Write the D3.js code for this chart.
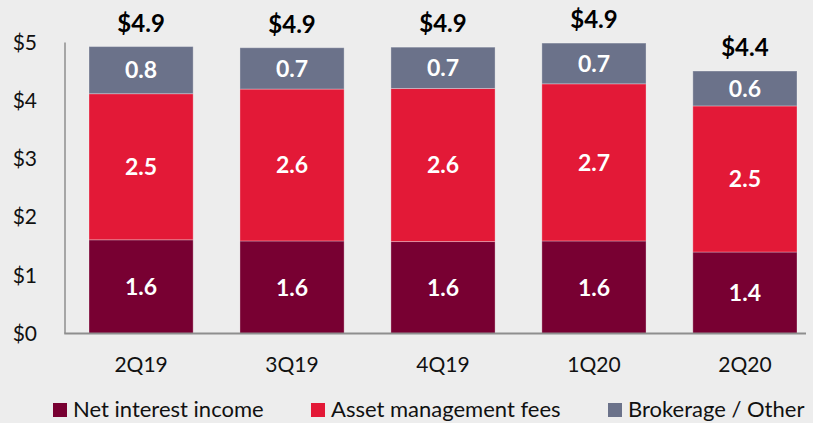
<!DOCTYPE html>
<html lang="en">
<head>
  <meta charset="UTF-8">
  <title>Revenue by quarter</title>
  <script src="https://cdn.jsdelivr.net/npm/d3@7"></script>
  <style>
    html, body { margin: 0; padding: 0; background: #ededed; }
    text { font-family: Lato, "Open Sans", sans-serif; }
  </style>
</head>
<body>
  <div id="chart"></div>
  <script>

    // data ($ billions)
    var quarters = ["2Q19", "3Q19", "4Q19", "1Q20", "2Q20"];
    var netInterest = [1.61, 1.59, 1.58, 1.59, 1.40];
    var assetMgmt = [2.51, 2.61, 2.63, 2.70, 2.51];
    var brokerage = [0.81, 0.71, 0.71, 0.70, 0.60];
    var totalLabels = ["$4.9", "$4.9", "$4.9", "$4.9", "$4.4"];
    var yTicks = [0, 1, 2, 3, 4, 5];

    var seriesNames = ["Net interest income", "Asset management fees", "Brokerage / Other"];
    var colors = ["#780032", "#e31937", "#6b728a"];

    var W = 813, H = 423;
    var margin = { top: 42, right: 16, bottom: 89.5, left: 65 };

    var svg = d3.select("#chart").append("svg")
      .attr("width", W)
      .attr("height", H);

    var rows = quarters.map(function (q, i) {
      return { q: q, nii: netInterest[i], amf: assetMgmt[i], bro: brokerage[i], total: totalLabels[i] };
    });
    var keys = ["nii", "amf", "bro"];
    var stacked = d3.stack().keys(keys)(rows);

    var x = d3.scaleBand()
      .domain(quarters)
      .range([89, 797])
      .paddingInner(0.31)
      .paddingOuter(0);

    var y = d3.scaleLinear()
      .domain([0, 5])
      .range([H - margin.bottom, margin.top + 0.5]);

    // y axis line (no tick marks)
    svg.append("line")
      .attr("x1", margin.left).attr("x2", margin.left)
      .attr("y1", y(5)).attr("y2", y(0))
      .attr("stroke", "#8e8e8e").attr("stroke-width", 1.5);

    // y tick labels
    svg.append("g").selectAll("text")
      .data(yTicks)
      .enter().append("text")
      .attr("x", 37)
      .attr("y", function (d) { return y(d); })
      .attr("dy", "0.35em")
      .attr("text-anchor", "end")
      .attr("font-size", 21)
      .attr("fill", "#111")
      .text(function (d) { return "$" + d; });

    // bars
    var layer = svg.append("g").selectAll("g")
      .data(stacked)
      .enter().append("g")
      .attr("fill", function (d, i) { return colors[i]; });

    layer.selectAll("rect")
      .data(function (d) { return d; })
      .enter().append("rect")
      .attr("x", function (d) { return x(d.data.q); })
      .attr("y", function (d) { return y(d[1]); })
      .attr("width", x.bandwidth())
      .attr("height", function (d) { return y(d[0]) - y(d[1]); })
      .attr("stroke", "rgba(255,255,255,0.3)")
      .attr("stroke-width", 1);

    // segment labels
    layer.selectAll("text")
      .data(function (d) { return d; })
      .enter().append("text")
      .attr("x", function (d) { return x(d.data.q) + x.bandwidth() / 2; })
      .attr("y", function (d) { return (y(d[0]) + y(d[1])) / 2; })
      .attr("dy", "0.36em")
      .attr("text-anchor", "middle")
      .attr("font-size", 23)
      .attr("font-weight", "bold")
      .attr("fill", "#fff")
      .text(function (d) { return d3.format(".1f")(d[1] - d[0]); });

    // x baseline
    svg.append("line")
      .attr("x1", margin.left - 0.75).attr("x2", 806)
      .attr("y1", y(0)).attr("y2", y(0))
      .attr("stroke", "#8e8e8e").attr("stroke-width", 2);

    // totals on top
    var topLayer = stacked[stacked.length - 1];
    svg.append("g").selectAll("text")
      .data(topLayer)
      .enter().append("text")
      .attr("x", function (d) { return x(d.data.q) + x.bandwidth() / 2; })
      .attr("y", function (d) { return y(d[1]) - 15; })
      .attr("text-anchor", "middle")
      .attr("font-size", 24)
      .attr("font-weight", "bold")
      .attr("fill", "#000")
      .text(function (d) { return d.data.total; });

    // category labels
    svg.append("g").selectAll("text")
      .data(quarters)
      .enter().append("text")
      .attr("x", function (d) { return x(d) + x.bandwidth() / 2; })
      .attr("y", 365)
      .attr("dy", "0.35em")
      .attr("text-anchor", "middle")
      .attr("font-size", 21)
      .attr("fill", "#111")
      .text(function (d) { return d; });

    // legend
    var legendX = [53, 311, 608];
    var legend = svg.append("g").selectAll("g")
      .data(seriesNames)
      .enter().append("g")
      .attr("transform", function (d, i) { return "translate(" + legendX[i] + ",403)"; });

    legend.append("rect")
      .attr("width", 14).attr("height", 14)
      .attr("fill", function (d, i) { return colors[i]; });

    legend.append("text")
      .attr("x", 20)
      .attr("y", 14)
      .attr("font-size", 22)
      .attr("fill", "#111")
      .text(function (d) { return d; });

  </script>
</body>
</html>
